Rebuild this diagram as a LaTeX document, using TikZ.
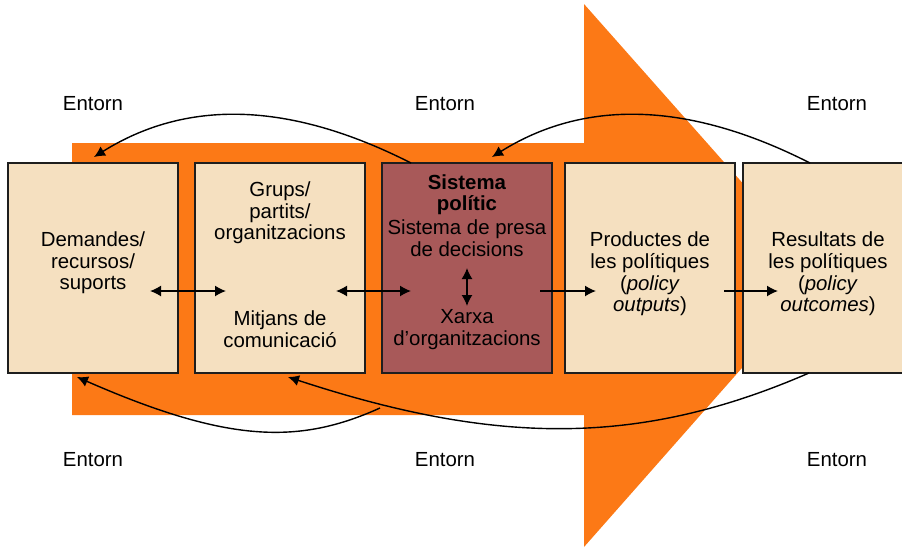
\documentclass[tikz,border=0pt]{standalone}
\usepackage{fontspec}
\setmainfont{Liberation Sans}
\usepackage{xcolor}
\usepackage{tikz}
\usetikzlibrary{arrows.meta, positioning}

\definecolor{bigarrow}{RGB}{252,121,22}
\definecolor{boxfill}{RGB}{245,224,192}
\definecolor{polfill}{RGB}{168,89,89}
\definecolor{boxline}{RGB}{30,30,30}

\begin{document}
\begin{tikzpicture}[x=0.5pt, y=-0.5pt, node distance=8.5pt, >={Latex[length=5.5pt, width=5.5pt]}]
    % Node Styles
    \tikzstyle{box} = [rectangle, draw=boxline, line width=0.75pt, fill=boxfill, minimum width=85pt, minimum height=105pt, inner sep=0pt, outer sep=0pt]
    \tikzstyle{txt} = [align=center, inner sep=0pt, font=\fontsize{10.2}{10.85}\selectfont]
    \tikzstyle{line} = [draw, ->, line width=0.75pt]
    \tikzstyle{dline} = [draw, <->, line width=0.75pt]
    \tikzstyle{back} = [draw, ->, line width=0.7pt]

    \useasboundingbox (0,0) rectangle (902,548);

    % --- BACKGROUND ARROW ---
    \fill [bigarrow] (72,143) -- (584,143) -- (584,4) -- (824,275) -- (584,547) -- (584,415) -- (72,415) -- cycle;

    % --- BOXES ---
    \node [box] (dem) at (93,268) {};
    \node [box, right=of dem] (grups) {};
    \node [box, right=of grups, fill=polfill] (sist) {};
    \node [box, right=6.5pt of sist] (prod) {};
    \node [box, right=4pt of prod] (res) {};

    % --- TEXTS ---
    \node [txt, yshift=2.6pt] (demtxt) at (dem) {Demandes/\\recursos/\\suports};
    \node [txt, yshift=27.5pt] (grtxt) at (grups) {Grups/\\partits/\\organitzacions};
    \node [txt, yshift=-30.75pt] (mitxt) at (grups) {Mitjans de\\comunicació};
    \node [txt, yshift=26.25pt] (sitxt) at (sist) {\textbf{Sistema}\\\textbf{polític}\\[1pt]Sistema de presa\\de decisions};
    \node [txt, yshift=-30.75pt] (xatxt) at (sist) {Xarxa\\d’organitzacions};
    \node [txt, yshift=-3pt] (prtxt) at (prod) {Productes de\\les polítiques\\(\textit{policy}\\\textit{outputs})};
    \node [txt, yshift=-3pt] (retxt) at (res) {Resultats de\\les polítiques\\(\textit{policy}\\\textit{outcomes})};

    % --- ENTORN ---
    \node [txt] (env1) at (93,104) {Entorn};
    \node [txt] (env2) at (445,104) {Entorn};
    \node [txt] (env3) at (837,104) {Entorn};
    \node [txt] (env4) at (93,460) {Entorn};
    \node [txt] (env5) at (445,460) {Entorn};
    \node [txt] (env6) at (837,460) {Entorn};

    % --- PATHS ---
    \path [dline] ([xshift=-14pt, yshift=-11.5pt]dem.east) -- ([xshift=15.5pt, yshift=-11.5pt]grups.west);
    \path [dline] ([xshift=-14.5pt, yshift=-11.5pt]grups.east) -- ([xshift=14.5pt, yshift=-11.5pt]sist.west);
    \path [dline] (sist.center) -- ([yshift=-19pt]sist.center);
    \path [line] ([xshift=-6pt, yshift=-11.5pt]sist.east) -- ([xshift=15.5pt, yshift=-11.5pt]prod.west);
    \path [line] ([xshift=-5.5pt, yshift=-11.5pt]prod.east) -- ([xshift=17.5pt, yshift=-11.5pt]res.west);

    % --- FEEDBACK ---
    \path [back] ([xshift=14.5pt]sist.north west) .. controls +(-124,-63) and +(91,-57) .. ([xshift=0.5pt, yshift=3pt]dem.north);
    \path [back] ([xshift=33.5pt]res.north west) .. controls +(-124,-63) and +(91,-57) .. ([xshift=12.5pt, yshift=3pt]sist.north);
    \path [back] ([xshift=33pt]res.south west) .. controls +(-168,73) and +(210,69) .. ([xshift=4pt, yshift=-2pt]grups.south);
    \coordinate (loose) at (380,408);
    \path [back] (loose) .. controls +(-80,36) and +(153,67) .. ([xshift=-8pt, yshift=-2pt]dem.south);

\end{tikzpicture}
\end{document}
